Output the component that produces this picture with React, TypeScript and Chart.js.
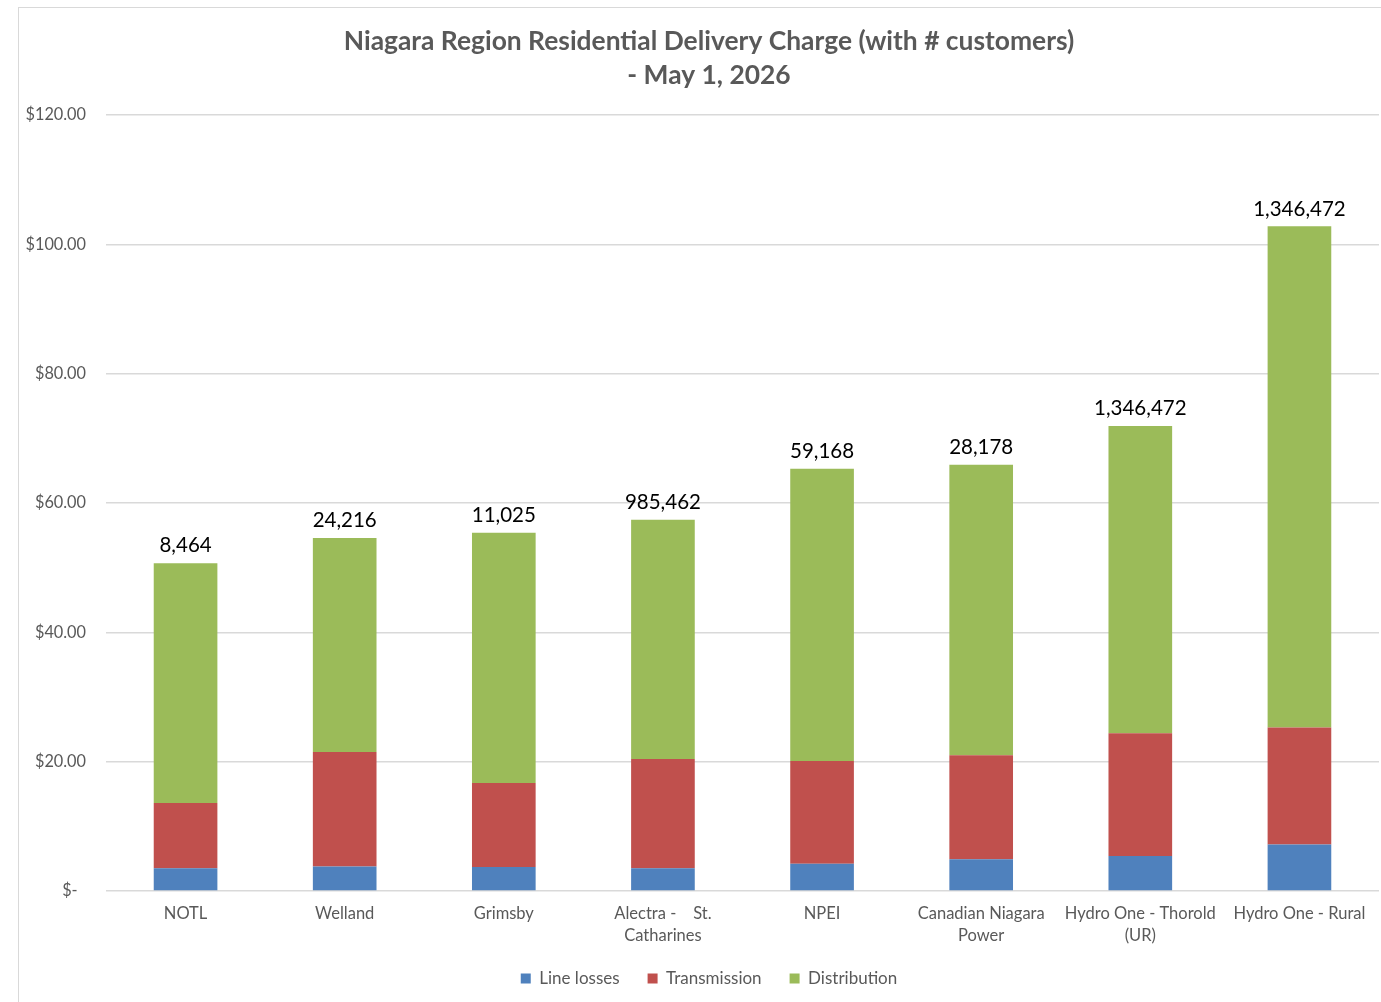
import React, { useEffect, useRef } from "react";
import { Chart, registerables } from "chart.js";

Chart.register(...registerables);

const categories: string[][] = [
  ["NOTL"],
  ["Welland"],
  ["Grimsby"],
  ["Alectra -    St.", "Catharines"],
  ["NPEI"],
  ["Canadian Niagara", "Power"],
  ["Hydro One - Thorold", "(UR)"],
  ["Hydro One - Rural"],
];

const lineLosses = [3.5, 3.8, 3.7, 3.5, 4.2, 4.9, 5.4, 7.2];
const transmission = [10.1, 17.7, 13.0, 16.9, 15.9, 16.1, 19.0, 18.1];
const distribution = [37.1, 33.1, 38.7, 37.0, 45.2, 44.9, 47.5, 77.5];

const customers = ["8,464", "24,216", "11,025", "985,462", "59,168", "28,178", "1,346,472", "1,346,472"];

const titleLines = ["Niagara Region Residential Delivery Charge (with # customers)", "- May 1, 2026"];

const FONT = "Lato, 'Open Sans', sans-serif";
const GREY = "#595959";

const totalLabels = {
  id: "totalLabels",
  afterDatasetsDraw(chart: any) {
    const ctx = chart.ctx;
    const last = chart.data.datasets.length - 1;
    const meta = chart.getDatasetMeta(last);
    ctx.save();
    ctx.font = `20.5px ${FONT}`;
    ctx.fillStyle = "#000000";
    ctx.textAlign = "center";
    ctx.textBaseline = "bottom";
    meta.data.forEach((bar: any, i: number) => {
      ctx.fillText(customers[i], bar.x, bar.y - 7);
    });
    ctx.restore();
  },
};

// Centre title and legend on the whole canvas and nudge the legend row up a little
const boxNudge = {
  id: "boxNudge",
  afterLayout(chart: any) {
    const dx = 7;
    const t = chart.titleBlock;
    if (t) {
      t.left += dx;
      t.right += dx;
    }
    const lg = chart.legend;
    if (lg) {
      lg.left += dx;
      lg.right += dx;
      lg.top -= 5;
      lg.bottom -= 5;
    }
  },
};

export default function App() {
  const ref = useRef<HTMLCanvasElement | null>(null);

  useEffect(() => {
    if (!ref.current) return;
    const chart = new Chart(ref.current, {
      type: "bar",
      data: {
        labels: categories,
        datasets: [
          { label: "Line losses", data: lineLosses, backgroundColor: "#4f81bd" },
          { label: "Transmission", data: transmission, backgroundColor: "#c0504d" },
          { label: "Distribution", data: distribution, backgroundColor: "#9bbb59" },
        ],
      },
      options: {
        animation: false,
        responsive: true,
        maintainAspectRatio: false,
        layout: { padding: { left: 6, right: 20, top: 0, bottom: 6 } },
        datasets: {
          bar: { categoryPercentage: 1, barPercentage: 0.4 },
        },
        plugins: {
          title: {
            display: true,
            text: titleLines,
            color: GREY,
            font: { family: FONT, size: 26.4, weight: "bold", lineHeight: 34 / 26.4 },
            padding: { top: 16, bottom: 23 },
          },
          legend: {
            position: "bottom",
            labels: {
              boxWidth: 10,
              boxHeight: 10,
              padding: 28,
              color: GREY,
              font: { family: FONT, size: 17 },
            },
          },
          tooltip: { enabled: false },
        },
        scales: {
          x: {
            stacked: true,
            grid: { display: false, drawTicks: false },
            border: { display: false },
            afterFit: (s: any) => {
              s.height = 56;
            },
            ticks: {
              color: GREY,
              font: { family: FONT, size: 16.5, lineHeight: 22 / 16.5 },
              padding: 12,
              maxRotation: 0,
              autoSkip: false,
            },
          },
          y: {
            stacked: true,
            min: 0,
            max: 120,
            grid: { color: "#d9d9d9", lineWidth: 1.5, drawTicks: false },
            border: { display: false },
            afterFit: (s: any) => {
              s.width = 81;
            },
            ticks: {
              stepSize: 20,
              color: GREY,
              padding: 20,
              font: { family: FONT, size: 16.3 },
              callback: (v: any) => (Number(v) === 0 ? "$-  " : "$" + Number(v).toFixed(2)),
            },
          },
        },
      },
      plugins: [totalLabels, boxNudge],
    });
    return () => chart.destroy();
  }, []);

  return (
    <div style={{ position: "fixed", left: 0, top: 0, width: "100vw", height: "100vh", overflow: "hidden", background: "#fff" }}>
      <div
        style={{
          position: "absolute",
          left: 18,
          top: 7,
          width: 1380,
          height: 1000,
          border: "1px solid #d9d9d9",
          background: "#fff",
        }}
      >
        <canvas ref={ref} />
      </div>
    </div>
  );
}
